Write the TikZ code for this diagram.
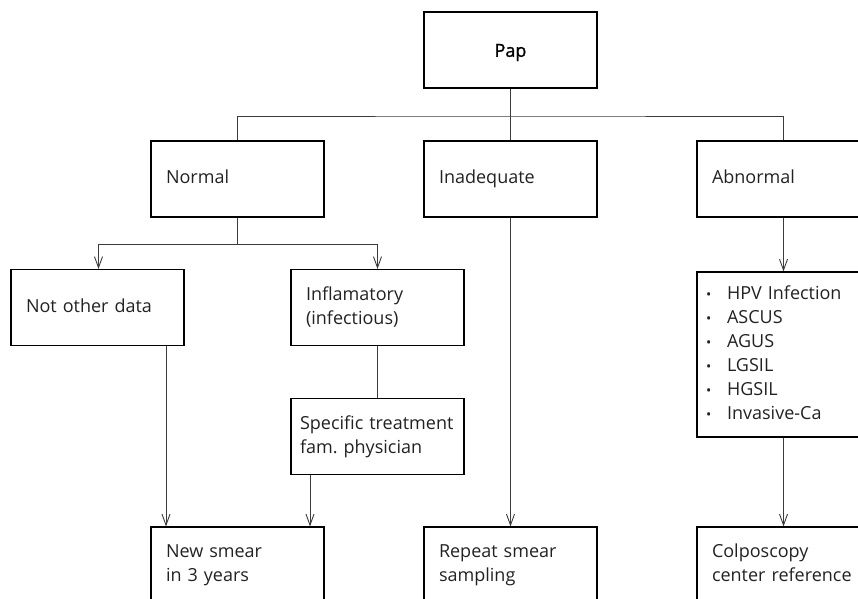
\documentclass[tikz,border=0pt]{standalone}
\usepackage{fontspec}
\setmainfont{Open Sans}
\usetikzlibrary{arrows.meta}
\definecolor{txt}{HTML}{222222}
\definecolor{conn}{HTML}{3C3C3C}
\frenchspacing
\begin{document}
\begin{tikzpicture}[x=1pt,y=-1pt,
  box/.style={draw=black,line width=1.1pt,minimum width=173pt,minimum height=76pt,
    inner xsep=15pt,inner ysep=0pt,text width=143pt,align=left,text=txt,
    font=\fontsize{18}{24}\selectfont},
  topbox/.style={box,align=center,text=black},
  narrowbox/.style={box,inner xsep=9pt,text width=155pt},
  listbox/.style={box,inner xsep=9pt,text width=155pt,minimum height=165pt},
  conn/.style={draw=conn,line width=0.9pt},
  arr/.style={conn,-{Straight Barb[length=11pt,width=8pt,line width=0.9pt]}}]
\useasboundingbox (0,0) rectangle (858,598);
\clip (0,0) rectangle (858,598);
\newcommand{\bul}{\strut\makebox[21pt][l]{\fontsize{14}{14}\selectfont•}}
\newcommand{\tline}[1]{\strut\mbox{#1}}
\node[topbox] (pap) at (510.5,50) {\strut\smash{\raisebox{-2pt}{\addfontfeature{FakeBold=1.2}Pap}}};
\node[box] (normal) at (237.5,179) {\tline{Normal}};
\node[box] (inad) at (510.5,179) {\tline{Inadequate}};
\node[box] (abn) at (783.5,179) {\tline{Abnormal}};
\node[box] (nod) at (97.5,307.5) {\tline{Not other data}};
\node[box] (infl) at (377.5,307.5) {\tline{Inflamatory}\\\tline{(infectious)}};
\node[narrowbox] (spec) at (377.5,436.5) {\tline{Specific treatment}\\\tline{fam. physician}};
\node[listbox] (list) at (783.5,354.5) {\bul HPV Infection\\\bul ASCUS\\\bul AGUS\\\bul LGSIL\\\bul HGSIL\\\bul Invasive-Ca};
\node[box] (newsm) at (237.5,565) {\tline{New smear}\\\tline{in 3 years}};
\node[box] (rep) at (510.5,565) {\tline{Repeat smear}\\\tline{sampling}};
\node[box] (colp) at (783.5,565) {\tline{Colposcopy}\\\tline{center reference}};
\coordinate (split) at (510.5,116);
\coordinate (nsplit) at (237.5,244);
\draw[conn] (pap.south) -- (inad.north);
\draw[conn] (normal.north) |- (split) -| (abn.north);
\draw[conn] (normal.south) -- (nsplit);
\draw[arr] (nsplit) -| ([xshift=1pt]nod.north);
\draw[arr] (nsplit) -| (infl.north);
\draw[conn] (infl.south) -- (spec.north);
\draw[arr] ([xshift=-67.5pt]spec.south) -- ([xshift=-67.5pt]spec.south |- newsm.north);
\draw[arr] ([xshift=68.5pt]nod.south) -- ([xshift=68.5pt]nod.south |- newsm.north);
\draw[arr] (inad.south) -- (rep.north);
\draw[arr] (abn.south) -- (list.north);
\draw[arr] (list.south) -- (colp.north);
\end{tikzpicture}
\end{document}
